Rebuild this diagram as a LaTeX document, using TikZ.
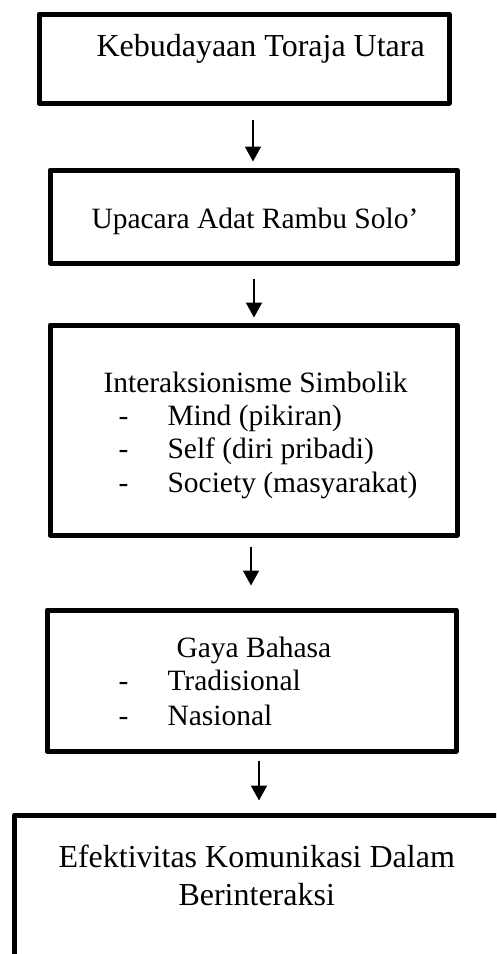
\documentclass[tikz,border=0pt]{standalone}
\usepackage{fontspec}
\setmainfont{Liberation Serif}
\usetikzlibrary{arrows.meta,calc}

\tikzset{
  box/.style 2 args={draw, line width=2pt, line join=round,
    minimum width={#1*0.4pt}, minimum height={#2*0.4pt}, inner sep=0pt},
  txt/.style={anchor=base west, inner sep=0pt, font=\fontsize{11.8}{13}\selectfont},
  big/.style={txt, font=\fontsize{12.8}{14}\selectfont},
  arr/.style={-{Triangle[width=6.4pt,length=6pt]}, line width=0.8pt}
}

\begin{document}
\begin{tikzpicture}[x=0.4pt,y=-0.4pt]

    \clip (0,0) rectangle (496,954);
    \fill[white] (0,0) rectangle (496,954);

    % boxes
    \node[box={410}{89}]  (b1) at (244,58.5) {};
    \node[box={407}{93}]  (b2) at (253.5,216.5) {};
    \node[box={407}{210}] (b3) at (253.5,430) {};
    \node[box={409}{141}] (b4) at (251.5,680.5) {};
    \node[box={520}{200}] (b5) at (274.5,915) {};

    % texts
    \node[big] (k)  at (96,56)   {Kebudayaan Toraja Utara};
    \node[txt] (u)  at (91,228)  {Upacara Adat Rambu Solo’};
    \node[txt] (i)  at (103,392) {Interaksionisme Simbolik};
    \node[txt] (g)  at (176,657) {Gaya Bahasa};
    \node[big] (e1) at (58,867)  {Efektivitas Komunikasi Dalam};
    \node[big] (e2) at (178,905) {Berinteraksi};

    \foreach \name/\y/\t in {m/425/Mind (pikiran), s/458/Self (diri pribadi),
        so/492/Society (masyarakat), tr/690/Tradisional, na/725/Nasional}
    {
      \node[txt] (d\name) at (118,\y) {-};
      \node[txt] (\name) at (167,\y) {\t};
    }

    % arrows
    \draw[arr] ($(b1.south)+(9,14)$) -- ($(b2.north)+(-0.5,-6)$);
    \draw[arr] ($(b2.south)+(0.5,13)$) -- ($(b3.north)+(0.5,-5)$);
    \draw[arr] ($(b3.south)+(-2.5,9)$) -- ($(b4.north)+(-0.5,-22)$);
    \draw[arr] ($(b4.south)+(7.5,7)$) -- ($(b5.north)+(-15.5,-12)$);

\end{tikzpicture}
\end{document}
